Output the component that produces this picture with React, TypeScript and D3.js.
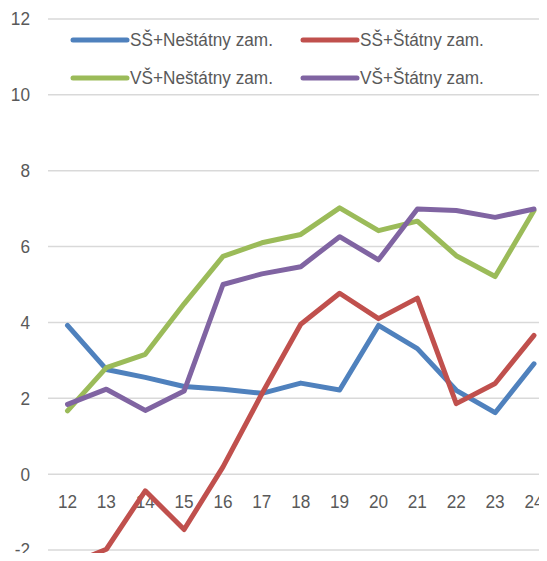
import { useEffect, useRef } from "react"
import * as d3 from "d3"

const years = ["12", "13", "14", "15", "16", "17", "18", "19", "20", "21", "22", "23", "24"]

const ssNestatny = [3.92, 2.76, 2.55, 2.31, 2.24, 2.13, 2.4, 2.22, 3.92, 3.31, 2.21, 1.62, 2.91]
const ssStatny = [-2.4, -1.98, -0.44, -1.46, 0.19, 2.12, 3.95, 4.77, 4.1, 4.64, 1.86, 2.39, 3.66]
const vsNestatny = [1.67, 2.81, 3.16, 4.49, 5.74, 6.1, 6.32, 7.02, 6.42, 6.67, 5.76, 5.21, 6.95]
const vsStatny = [1.84, 2.24, 1.68, 2.19, 5.0, 5.28, 5.47, 6.26, 5.65, 6.99, 6.95, 6.77, 6.99]

const seriesNames = ["SŠ+Neštátny zam.", "SŠ+Štátny zam.", "VŠ+Neštátny zam.", "VŠ+Štátny zam."]
const seriesColors = ["#4F81BD", "#C0504D", "#9BBB59", "#8064A2"]
const yTicks = [-2, 0, 2, 4, 6, 8, 10, 12]

interface Series {
  name: string
  color: string
  values: number[]
}

const App = () => {
  const svgRef = useRef<SVGSVGElement | null>(null)

  useEffect(() => {
    if (!svgRef.current) return
    const svg = d3.select(svgRef.current)
    svg.selectAll("*").remove()

    const width = 547
    const font = "'Liberation Sans', Arial, sans-serif"
    const textColor = "#595959"
    const fontSize = 18.5
    // the reference text is a little condensed
    const squeeze = 0.93

    const series: Series[] = [ssNestatny, ssStatny, vsNestatny, vsStatny].map((values, i) => ({
      name: seriesNames[i],
      color: seriesColors[i],
      values,
    }))

    const xScale = d3.scalePoint<string>().domain(years).range([67.5, 534])
    const yScale = d3.scaleLinear().domain([-2, 12]).range([550, 19])

    // Grid lines
    svg
      .append("g")
      .selectAll("line")
      .data(yTicks)
      .join("line")
      .attr("x1", 48)
      .attr("x2", width)
      .attr("y1", (d) => yScale(d))
      .attr("y2", (d) => yScale(d))
      .attr("stroke", "#D9D9D9")
      .attr("stroke-width", 1.5)

    // Y labels
    svg
      .append("g")
      .selectAll("text")
      .data(yTicks)
      .join("text")
      .attr("transform", (d) => `translate(30,${yScale(d)}) scale(${squeeze},1)`)
      .attr("dy", "0.35em")
      .attr("text-anchor", "end")
      .attr("font-family", font)
      .attr("font-size", fontSize)
      .attr("fill", textColor)
      .text((d) => String(d))

    // X labels sit just below the zero line
    svg
      .append("g")
      .selectAll("text")
      .data(years)
      .join("text")
      .attr("transform", (d) => `translate(${xScale(d)},${yScale(0) + 27}) scale(${squeeze},1)`)
      .attr("dy", "0.35em")
      .attr("text-anchor", "middle")
      .attr("font-family", font)
      .attr("font-size", fontSize)
      .attr("fill", textColor)
      .text((d) => d)

    // Clip lines to the plot area
    svg
      .append("defs")
      .append("clipPath")
      .attr("id", "plot-clip")
      .append("rect")
      .attr("x", 0)
      .attr("y", 0)
      .attr("width", width)
      .attr("height", 553)

    const line = d3
      .line<number>()
      .x((_, i) => xScale(years[i])!)
      .y((d) => yScale(d))

    const lines = svg.append("g").attr("clip-path", "url(#plot-clip)")
    series.forEach((s) => {
      lines
        .append("path")
        .datum(s.values)
        .attr("fill", "none")
        .attr("stroke", s.color)
        .attr("stroke-width", 5)
        .attr("stroke-linejoin", "round")
        .attr("stroke-linecap", "round")
        .attr("d", line)
    })

    // Legend
    const legendPos = [
      { x: 73, y: 40 },
      { x: 303, y: 40 },
      { x: 73, y: 78 },
      { x: 303, y: 78 },
    ]
    series.forEach((s, i) => {
      const row = svg.append("g").attr("transform", `translate(${legendPos[i].x},${legendPos[i].y})`)
      row
        .append("line")
        .attr("x1", 0)
        .attr("x2", 54)
        .attr("stroke", s.color)
        .attr("stroke-width", 5)
        .attr("stroke-linecap", "round")
      row
        .append("text")
        .attr("transform", `translate(57,0) scale(${squeeze},1)`)
        .attr("dy", "0.35em")
        .attr("font-family", font)
        .attr("font-size", fontSize)
        .attr("fill", textColor)
        .text(s.name)
    })
  }, [])

  return <svg ref={svgRef} width={547} height={561} style={{ display: "block", margin: -8 }} />
}

export default App
